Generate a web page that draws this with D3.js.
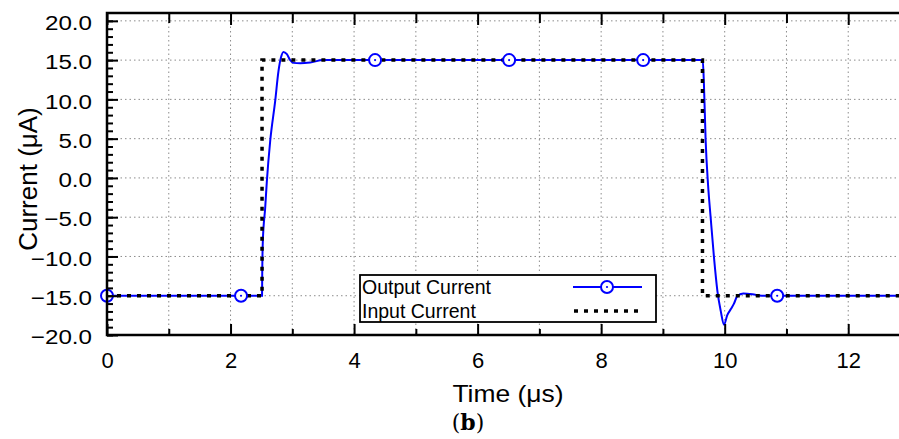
<!DOCTYPE html>
<html>
<head>
<meta charset="utf-8">
<script src="https://cdn.jsdelivr.net/npm/d3@7"></script>
<style>
  body { margin: 0; background: #fff; }
  svg { display: block; font-family: "Liberation Sans", Arial, Helvetica, sans-serif; }
</style>
</head>
<body>
<svg></svg>
<script>
// output current (blue line)
let outTime = [0, 2.51, 2.513, 2.523, 2.561, 2.588, 2.642, 2.723, 2.776, 2.815, 2.857, 2.912, 2.966, 3.019, 3.128, 3.29, 3.5,
               9.645, 9.664, 9.692, 9.73, 9.773, 9.827, 9.882, 9.935, 9.99, 10.04, 10.1, 10.15, 10.2, 10.3, 10.45, 10.6, 13]
let outValue = [-15, -15, -12.2, -8.0, -3.8, -0.4, 4.7, 9.8, 13.6, 15.3, 16.05, 15.75, 15.0, 14.65, 14.6, 14.7, 15,
                15, 11.9, 4.7, -0.8, -5.06, -10.15, -14.4, -16.9, -18.7, -17.5, -16.7, -16.0, -15.1, -14.7, -14.8, -15, -15]

// markers on the output curve
let markerTime = [0, 2.17, 4.34, 6.51, 8.68, 10.85]
let markerValue = [-15, -15, 15, 15, 15, -15]

// input current (black dotted step)
let inTime = [0, 2.51, 2.51, 9.64, 9.64, 13]
let inValue = [-15, -15, 15, 15, -15, -15]

let yTicks = [-20, -15, -10, -5, 0, 5, 10, 15, 20]
let xTicks = [0, 2, 4, 6, 8, 10, 12]
let legendLabels = ["Output Current", "Input Current"]

let width = 899
let height = 439
let plotLeft = 107, plotRight = 910, plotTop = 13, plotBottom = 335

let svg = d3.select("svg").attr("width", width).attr("height", height)

let xScale = d3.scaleLinear().domain([0, 13]).range([plotLeft, plotRight])
let yScale = d3.scaleLinear().domain([-20, 21]).range([plotBottom, plotTop])

let drawGrid = () => {
  let g = svg.append("g").attr("stroke", "#8c8c8c").attr("stroke-width", 1).attr("stroke-dasharray", "1.5,3")
  g.selectAll(".vg").data(d3.range(1, 13)).enter().append("line")
    .attr("x1", d => xScale(d)).attr("x2", d => xScale(d))
    .attr("y1", plotTop).attr("y2", plotBottom)
  g.selectAll(".hg").data(yTicks.slice(1)).enter().append("line")
    .attr("x1", plotLeft).attr("x2", plotRight)
    .attr("y1", d => yScale(d)).attr("y2", d => yScale(d))
}

let generateAxes = () => {
  // minor ticks first
  let yMinor = d3.axisLeft(yScale).tickValues(d3.range(-20, 21, 1)).tickSize(-6).tickFormat("")
  svg.append("g").attr("transform", "translate(" + plotLeft + ",0)").call(yMinor)

  let xMinor = d3.axisBottom(xScale).tickValues(d3.range(1, 13, 2)).tickSize(-6).tickFormat("")
  svg.append("g").attr("transform", "translate(0," + plotBottom + ")").call(xMinor)

  let xTopMinor = d3.axisTop(xScale).tickValues(d3.range(1, 13, 2)).tickSize(-10).tickFormat("")
  svg.append("g").attr("transform", "translate(0," + plotTop + ")").call(xTopMinor)

  let xTop = d3.axisTop(xScale).tickValues(xTicks).tickSize(-12).tickFormat("")
  svg.append("g").attr("transform", "translate(0," + plotTop + ")").call(xTop)

  let yAxis = d3.axisLeft(yScale).tickValues(yTicks).tickSize(-11).tickPadding(15).tickFormat(d3.format(".1f"))
  let yg = svg.append("g").attr("transform", "translate(" + plotLeft + ",0)").call(yAxis)
  yg.selectAll("text")
    .attr("x", -15 / 1.18)
    .attr("dy", "0.42em")
    .attr("transform", "scale(1.18,1)")
    .style("font-size", "20.5px")
    .attr("fill", "#000")

  let xAxis = d3.axisBottom(xScale).tickValues(xTicks).tickSize(-11).tickPadding(17)
  let xg = svg.append("g").attr("transform", "translate(0," + plotBottom + ")").call(xAxis)
  xg.selectAll("text").style("font-size", "22px").attr("fill", "#000")

  svg.selectAll(".domain").remove()
  svg.selectAll(".tick line").attr("stroke", "#000").attr("stroke-width", 2)
  svg.selectAll("g").attr("font-family", null).attr("font-size", null)

  // frame
  svg.append("path")
     .attr("d", "M" + plotRight + "," + plotTop + "H" + plotLeft + "V" + plotBottom + "H" + plotRight)
     .attr("fill", "none").attr("stroke", "#000").attr("stroke-width", 2.5)
}

let drawLines = () => {
  let outData = outTime.map((t, i) => [t, outValue[i]])
  let inData = inTime.map((t, i) => [t, inValue[i]])

  svg.append("path")
     .datum(outData)
     .attr("fill", "none")
     .attr("stroke", "#0000ff")
     .attr("stroke-width", 2)
     .attr("d", d3.line().x(d => xScale(d[0])).y(d => yScale(d[1])).curve(d3.curveMonotoneX))

  svg.append("path")
     .datum(inData)
     .attr("fill", "none")
     .attr("stroke", "#000")
     .attr("stroke-width", 3.5)
     .attr("stroke-dasharray", "4,6")
     .attr("d", d3.line().x(d => xScale(d[0])).y(d => yScale(d[1])))

  let markers = svg.selectAll(".marker")
                   .data(markerTime.map((t, i) => [t, markerValue[i]]))
                   .enter().append("g")
                   .attr("transform", d => "translate(" + xScale(d[0]) + "," + yScale(d[1]) + ")")
  markers.append("circle").attr("r", 6).attr("fill", "#fff").attr("stroke", "#0000ff").attr("stroke-width", 2)
  markers.append("circle").attr("r", 1.1).attr("fill", "#0000ff")
}

let drawLegend = () => {
  let g = svg.append("g")
  g.append("rect").attr("x", 360).attr("y", 275).attr("width", 296).attr("height", 47)
   .attr("fill", "#fff").attr("stroke", "#000").attr("stroke-width", 1.8)
  g.selectAll("text").data(legendLabels).enter().append("text")
   .attr("x", 362).attr("y", (d, i) => 294 + i * 23.5)
   .style("font-size", "19.5px").text(d => d)
  g.append("line").attr("x1", 573).attr("x2", 642).attr("y1", 287).attr("y2", 287)
   .attr("stroke", "#0000ff").attr("stroke-width", 2)
  g.append("circle").attr("cx", 607).attr("cy", 287).attr("r", 6).attr("fill", "#fff").attr("stroke", "#0000ff").attr("stroke-width", 2)
  g.append("circle").attr("cx", 607).attr("cy", 287).attr("r", 1.1).attr("fill", "#0000ff")
  g.append("line").attr("x1", 574).attr("x2", 642).attr("y1", 311).attr("y2", 311)
   .attr("stroke", "#000").attr("stroke-width", 3.5).attr("stroke-dasharray", "4,6")
}

let drawTitles = () => {
  svg.append("text")
     .attr("transform", "translate(37,179) rotate(-90)")
     .attr("text-anchor", "middle")
     .style("font-size", "26px")
     .text("Current (μA)")
  svg.append("text")
     .attr("transform", "translate(508,402) scale(1.15,1)")
     .attr("text-anchor", "middle")
     .style("font-size", "23px")
     .text("Time (μs)")
  let b = svg.append("text")
     .attr("x", 468).attr("y", 430)
     .attr("text-anchor", "middle")
     .style("font-family", "'DejaVu Serif', 'Liberation Serif', serif")
     .style("font-size", "22px")
  b.append("tspan").text("(")
  b.append("tspan").style("font-weight", "bold").text("b")
  b.append("tspan").text(")")
}

drawGrid()
drawLines()
generateAxes()
drawLegend()
drawTitles()
</script>
</body>
</html>
